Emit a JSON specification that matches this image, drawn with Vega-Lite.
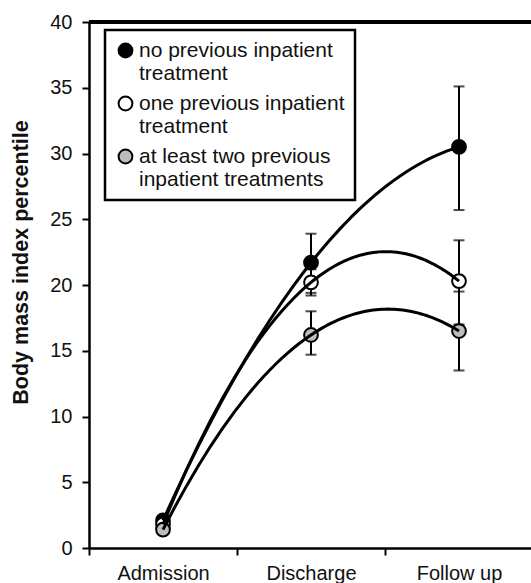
{
  "$schema": "https://vega.github.io/schema/vega-lite/v6.json",
  "width": 444,
  "height": 526,
  "autosize": {"type": "none"},
  "padding": {"left": 89, "top": 22, "right": 0, "bottom": 35},
  "config": {
    "view": {"stroke": null},
    "font": "Liberation Sans",
    "legend": {"strokeWidth": 2.5},
    "axis": {"domainColor": "black", "tickColor": "black", "labelColor": "#111", "titleColor": "#111", "grid": false}
  },
  "data": {
    "values": [
      {"stage": "Admission", "group": "no previous inpatient treatment", "mean": 2.1, "lo": 1.9, "hi": 2.3},
      {"stage": "Discharge", "group": "no previous inpatient treatment", "mean": 21.7, "lo": 19.4, "hi": 23.9},
      {"stage": "Follow up", "group": "no previous inpatient treatment", "mean": 30.5, "lo": 25.7, "hi": 35.1},
      {"stage": "Admission", "group": "one previous inpatient treatment", "mean": 1.8, "lo": 1.6, "hi": 2.0},
      {"stage": "Discharge", "group": "one previous inpatient treatment", "mean": 20.2, "lo": 19.2, "hi": 21.2},
      {"stage": "Follow up", "group": "one previous inpatient treatment", "mean": 20.3, "lo": 17.0, "hi": 23.4},
      {"stage": "Admission", "group": "at least two previous inpatient treatments", "mean": 1.4, "lo": 1.2, "hi": 1.6},
      {"stage": "Discharge", "group": "at least two previous inpatient treatments", "mean": 16.2, "lo": 14.7, "hi": 18.0},
      {"stage": "Follow up", "group": "at least two previous inpatient treatments", "mean": 16.5, "lo": 13.5, "hi": 19.5}
    ]
  },
  "resolve": {"scale": {"x": "independent"}},
  "layer": [
    {
      "encoding": {
        "x": {
          "field": "stage", "type": "nominal",
          "scale": {"domain": ["Admission", "Discharge", "Follow up"], "paddingInner": 0, "paddingOuter": 0},
          "axis": {"title": null, "labelAngle": 0, "labelFontSize": 20, "tickBand": "extent", "tickSize": 7, "tickWidth": 2, "domainWidth": 2.5, "labelPadding": 8}
        }
      },
      "layer": [
        {
          "mark": {"type": "rule", "color": "black", "strokeWidth": 2},
          "encoding": {
            "y": {"field": "lo", "type": "quantitative", "scale": {"domain": [0, 40], "nice": false}, "axis": {"title": "Body mass index percentile", "titleFontSize": 21.5, "titleFontWeight": "bold", "titlePadding": 17, "titleY": 240, "labelFontSize": 20, "values": [0, 5, 10, 15, 20, 25, 30, 35, 40], "tickSize": 7, "tickWidth": 2, "domainWidth": 2.5, "labelPadding": 10}},
            "y2": {"field": "hi"}
          }
        },
        {
          "mark": {"type": "tick", "color": "black", "thickness": 2, "size": 11},
          "encoding": {"y": {"field": "lo", "type": "quantitative"}}
        },
        {
          "mark": {"type": "tick", "color": "black", "thickness": 2, "size": 11},
          "encoding": {"y": {"field": "hi", "type": "quantitative"}}
        },
        {
          "mark": {"type": "point", "filled": true, "size": 190, "stroke": "black", "strokeWidth": 2, "opacity": 1},
          "encoding": {
            "y": {"field": "mean", "type": "quantitative"},
            "fill": {
              "field": "group", "type": "nominal",
              "scale": {"domain": ["no previous inpatient treatment", "one previous inpatient treatment", "at least two previous inpatient treatments"], "range": ["black", "white", "#bdbdbd"]},
              "legend": {
                "title": null, "orient": "none", "legendX": 16, "legendY": 8,
                "padding": 10, "strokeColor": "black", "fillColor": "white",
                "symbolType": "circle", "symbolSize": 190, "symbolStrokeColor": "black", "symbolStrokeWidth": 2,
                "labelFontSize": 21, "labelLineHeight": 22, "labelLimit": 400, "labelOffset": 3, "labelColor": "#111",
                "rowPadding": 8,
                "labelExpr": "datum.label == 'no previous inpatient treatment' ? ['no previous inpatient', 'treatment'] : datum.label == 'one previous inpatient treatment' ? ['one previous inpatient', 'treatment'] : ['at least two previous', 'inpatient treatments']"
              }
            }
          }
        }
      ]
    },
    {
      "transform": [
        {"window": [{"op": "row_number", "as": "step"}], "groupby": ["group"], "sort": [{"field": "stage", "order": "ascending"}]},
        {"regression": "mean", "on": "step", "method": "poly", "order": 2, "groupby": ["group"], "extent": [1, 3]}
      ],
      "layer": [
        {
          "mark": {"type": "line", "color": "black", "strokeWidth": 3},
          "encoding": {
            "x": {"field": "step", "type": "quantitative", "scale": {"domain": [0.5, 3.5], "nice": false, "zero": false}, "axis": null},
            "y": {"field": "mean", "type": "quantitative"},
            "detail": {"field": "group", "type": "nominal"}
          }
        },
        {
          "mark": {"type": "rule", "color": "black", "strokeWidth": 2.5},
          "encoding": {"y": {"datum": 40, "type": "quantitative"}}
        }
      ]
    }
  ]
}
